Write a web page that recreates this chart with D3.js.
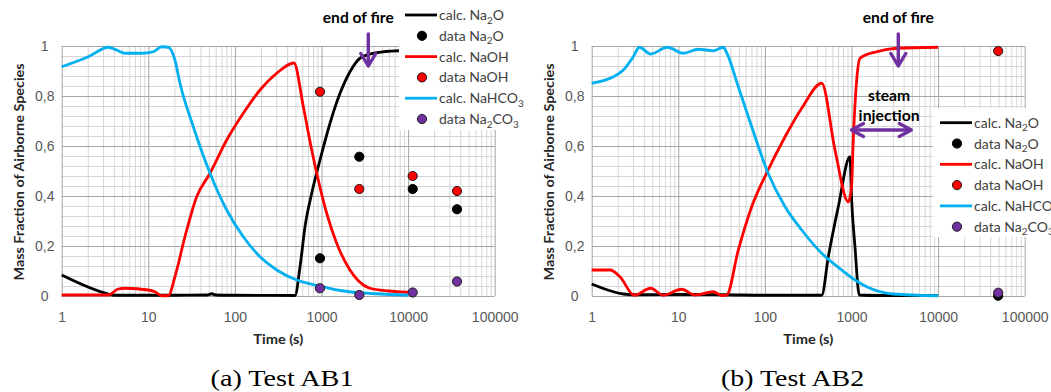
<!DOCTYPE html>
<html>
<head>
<meta charset="utf-8">
<script src="https://cdn.jsdelivr.net/npm/d3@7"></script>
<style>
  body { margin: 0; background: #fff; }
  svg { display: block; font-family: Lato, 'Open Sans', sans-serif; }
</style>
</head>
<body>
<svg width="1051" height="392"></svg>
<script>
// ---- tick labels
const xTickValues = [1, 10, 100, 1000, 10000, 100000];
const xTickLabels = ['1', '10', '100', '1000', '10000', '100000'];
const yTickValues = [0, 0.2, 0.4, 0.6, 0.8, 1];
const yTickLabels = ['0', '0,2', '0,4', '0,6', '0,8', '1'];

// ---- Test AB1 (time s, mass fraction)
const ab1CalcNa2O = [[1,0.084],[3.45,0.008],[4,0.003],[20,0.003],[48,0.004],[54,0.009],[60,0.004],[100,0.003],[494,0.002],[565,0.117],[645,0.277],[771,0.411],[961,0.544],[1254,0.691],[1636,0.811],[2133,0.897],[2785,0.951],[4340,0.973],[7700,0.981],[10000,0.982]];
const ab1CalcNaOH = [[1,0.004],[3.45,0.004],[4.5,0.028],[5.4,0.031],[10,0.024],[11.9,0.017],[14.3,0.001],[17,0.001],[20.3,0.077],[26.5,0.237],[36.2,0.397],[51.6,0.491],[80.4,0.624],[125,0.731],[195,0.824],[304,0.891],[480,0.932],[617,0.757],[771,0.584],[918,0.464],[1148,0.331],[1497,0.211],[2133,0.104],[3041,0.044],[3630,0.031],[6000,0.02],[10000,0.015]];
const ab1CalcNaHCO3 = [[1,0.917],[2.03,0.957],[3.45,0.995],[4.3,0.984],[5.4,0.971],[8.4,0.971],[11.4,0.977],[14.3,0.997],[17,0.995],[20.3,0.944],[23.2,0.851],[33.1,0.677],[51.6,0.491],[80.4,0.344],[125,0.237],[195,0.157],[304,0.104],[517,0.064],[771,0.047],[1100,0.035],[1730,0.021],[4200,0.009],[10000,0.003]];
const ab1DataTimes = [961, 2733, 11300, 36700];
const ab1DataNa2O = [0.151, 0.557, 0.428, 0.347];
const ab1DataNaOH = [0.817, 0.428, 0.48, 0.42];
const ab1DataNa2CO3 = [0.031, 0.004, 0.014, 0.058];

// ---- Test AB2
const ab2CalcNa2O = [[1,0.048],[1.78,0.017],[2.32,0.008],[3,0.005],[10,0.006],[35,0.005],[100,0.003],[453,0.003],[540,0.157],[704,0.357],[961,0.557],[1000,0.397],[1097,0.197],[1231,0.004],[2000,0.002],[10000,0.002]];
const ab2CalcNaOH = [[1,0.104],[1.63,0.104],[2.12,0.077],[3.1,0.003],[4.8,0.031],[6.7,0.003],[10.9,0.027],[15.6,0.004],[25.4,0.017],[31.7,0.002],[36.2,0.004],[49.3,0.184],[70.4,0.357],[109,0.504],[171,0.637],[266,0.751],[453,0.851],[645,0.584],[918,0.377],[1000,0.437],[1048,0.624],[1148,0.864],[1254,0.951],[1950,0.977],[3325,0.991],[10000,0.995]];
const ab2CalcNaHCO3 = [[1,0.851],[1.78,0.877],[2.32,0.904],[3.02,0.957],[3.55,0.995],[4.8,0.968],[7.46,0.995],[11.4,0.971],[17,0.987],[25.4,0.981],[33,0.995],[36,0.975],[49.3,0.837],[70.4,0.677],[109,0.491],[171,0.357],[266,0.264],[453,0.171],[771,0.104],[1097,0.064],[1497,0.037],[3020,0.008],[10000,0.001]];
const ab2DataTimes = [49400];
const ab2DataNa2O = [0.001];
const ab2DataNaOH = [0.98];
const ab2DataNa2CO3 = [0.013];

// ---- annotations (time in s)
const endOfFireTime = 3470;
const steamInjection = [1000, 4900];
const steamLabelTime = 2720;

const legendItems = [
    { type: 'line', color: '#000000', label: ['calc. Na', '2', 'O'] },
    { type: 'dot', color: '#000000', label: ['data Na', '2', 'O'] },
    { type: 'line', color: '#ff0000', label: ['calc. NaOH'] },
    { type: 'dot', color: '#ff0000', label: ['data NaOH'] },
    { type: 'line', color: '#00b0f0', label: ['calc. NaHCO', '3', ''] },
    { type: 'dot', color: '#7030a0', label: ['data Na', '2', 'CO', '3', ''] }
];

const svg = d3.select('svg');
const purple = '#7030a0';

function drawPanel(p) {
    const x = d3.scaleLog().domain([1, 1e5]).range([p.x0, p.x1]);
    const y = d3.scaleLinear().domain([0, 1]).range([296, 46]);
    const h = y(0) - y(1);
    const w = p.x1 - p.x0;
    const g = svg.append('g');

    // grid minor
    const minorX = x.ticks().filter(t => !xTickValues.includes(t));
    const minorY = d3.range(0, 1.0001, 0.04).filter(v => Math.abs(v * 5 - Math.round(v * 5)) > 1e-6);
    g.append('g')
        .attr('transform', `translate(0,${y(0)})`)
        .call(d3.axisBottom(x).tickValues(minorX).tickSize(-h).tickFormat(''))
        .call(s => s.select('.domain').remove())
        .selectAll('line').attr('stroke', '#d6d6d6');
    g.append('g')
        .attr('transform', `translate(${p.x0},0)`)
        .call(d3.axisLeft(y).tickValues(minorY).tickSize(-w).tickFormat(''))
        .call(s => s.select('.domain').remove())
        .selectAll('line').attr('stroke', '#d6d6d6');

    // grid major + labels
    g.append('g')
        .attr('transform', `translate(0,${y(0)})`)
        .call(d3.axisBottom(x).tickValues(xTickValues).tickSize(-h).tickPadding(16)
            .tickFormat((d, i) => xTickLabels[i]))
        .call(s => s.select('.domain').remove())
        .call(s => s.selectAll('line').attr('stroke', '#a6a6a6'))
        .call(s => s.selectAll('text').attr('fill', '#595959').style('font-size', '14px'));
    g.append('g')
        .attr('transform', `translate(${p.x0},0)`)
        .call(d3.axisLeft(y).tickValues(yTickValues).tickSize(-w).tickPadding(17)
            .tickFormat((d, i) => yTickLabels[i]))
        .call(s => s.select('.domain').remove())
        .call(s => s.selectAll('line').attr('stroke', '#a6a6a6'))
        .call(s => s.selectAll('text').attr('fill', '#595959').style('font-size', '14px')
            .attr('text-anchor', 'middle'));

    // titles
    g.append('text')
        .attr('transform', `translate(${p.x0 - 43},${(y(0) + y(1)) / 2 + 1}) rotate(-90)`)
        .attr('text-anchor', 'middle')
        .attr('dominant-baseline', 'central')
        .attr('textLength', 217).attr('lengthAdjust', 'spacingAndGlyphs')
        .style('font-size', '14px').style('font-weight', 'bold').attr('fill', '#262626')
        .text('Mass Fraction of Airborne Species');
    g.append('text')
        .attr('x', (p.x0 + p.x1) / 2).attr('y', 344)
        .attr('text-anchor', 'middle')
        .attr('textLength', 50).attr('lengthAdjust', 'spacingAndGlyphs')
        .style('font-size', '14px').style('font-weight', 'bold').attr('fill', '#262626')
        .text('Time (s)');
    g.append('text')
        .attr('x', p.captionX).attr('y', 386)
        .attr('text-anchor', 'middle')
        .attr('textLength', 143).attr('lengthAdjust', 'spacingAndGlyphs')
        .style('font-family', "'Liberation Serif', 'Times New Roman', serif")
        .style('font-size', '23px').attr('fill', '#000')
        .text(p.caption);

    // series
    const line = d3.line().x(d => x(d[0])).y(d => y(d[1])).curve(d3.curveMonotoneX);
    const dots = (times, vals, fill, stroke) => {
        g.append('g').selectAll('circle')
            .data(times.map((t, i) => [t, vals[i]]))
            .join('circle')
            .attr('cx', d => x(d[0])).attr('cy', d => y(d[1])).attr('r', 4.6)
            .attr('fill', fill).attr('stroke', stroke).attr('stroke-width', 1);
    };
    const path = (data, color) => g.append('path').datum(data)
        .attr('d', line).attr('fill', 'none').attr('stroke', color)
        .attr('stroke-width', 2.8).attr('stroke-linejoin', 'round');

    path(p.na2o, '#000000');
    dots(p.times, p.dNa2O, '#000000', '#000000');
    path(p.naoh, '#ff0000');
    dots(p.times, p.dNaOH, '#ff0000', '#1a1a1a');
    path(p.nahco3, '#00b0f0');
    dots(p.times, p.dNa2CO3, purple, '#1a1a1a');

    // legend
    const lg = g.append('g');
    lg.append('rect')
        .attr('x', p.legend.x).attr('y', p.legend.y)
        .attr('width', p.legend.w).attr('height', p.legend.h)
        .attr('fill', '#fff');
    legendItems.forEach((it, i) => {
        const ry = p.legend.row0 + i * 20.8;
        const lx = p.legend.sx;
        if (it.type === 'line') {
            lg.append('line').attr('x1', lx).attr('x2', lx + 32).attr('y1', ry).attr('y2', ry)
                .attr('stroke', it.color).attr('stroke-width', 2.8);
        } else {
            lg.append('circle').attr('cx', lx + 17).attr('cy', ry).attr('r', 4.6)
                .attr('fill', it.color).attr('stroke', it.color === '#000000' ? '#000' : '#1a1a1a');
        }
        const t = lg.append('text').attr('x', lx + 34).attr('y', ry + 5)
            .style('font-size', '14px').attr('fill', '#404040');
        it.label.forEach((part, k) => {
            const sub = k % 2 === 1;
            t.append('tspan').text(part)
                .attr('dy', k === 0 ? 0 : (sub ? 3.5 : -3.5))
                .style('font-size', sub ? '10px' : '14px');
        });
    });

    // end of fire arrow
    const ax = x(endOfFireTime);
    g.append('text').attr('x', ax - 10 + p.fireDx).attr('y', 23)
        .attr('text-anchor', 'middle')
        .attr('textLength', 71).attr('lengthAdjust', 'spacingAndGlyphs')
        .style('font-size', '15px').style('font-weight', 'bold').attr('fill', '#000')
        .text('end of fire');
    const ag = g.append('g').attr('stroke', purple).attr('stroke-width', 3.4)
        .attr('fill', 'none').attr('stroke-linecap', 'round').attr('stroke-linejoin', 'round');
    ag.append('line').attr('x1', ax).attr('x2', ax).attr('y1', 34).attr('y2', 65);
    ag.append('polyline').attr('points', `${ax - 7.5},53.5 ${ax},66 ${ax + 7.5},53.5`);

    if (p.steam) {
        const sx0 = x(steamInjection[0]), sx1 = x(steamInjection[1]);
        const sy = 130;
        const cx = x(steamLabelTime);
        g.append('text').attr('x', cx).attr('y', 101).attr('text-anchor', 'middle')
            .attr('textLength', 42).attr('lengthAdjust', 'spacingAndGlyphs')
            .style('font-size', '15px').style('font-weight', 'bold').attr('fill', '#000')
            .text('steam');
        g.append('text').attr('x', cx).attr('y', 121).attr('text-anchor', 'middle')
            .attr('textLength', 61).attr('lengthAdjust', 'spacingAndGlyphs')
            .style('font-size', '15px').style('font-weight', 'bold').attr('fill', '#000')
            .text('injection');
        const sg = g.append('g').attr('stroke', purple).attr('stroke-width', 3.4)
            .attr('fill', 'none').attr('stroke-linecap', 'round').attr('stroke-linejoin', 'round');
        sg.append('line').attr('x1', sx0 + 1).attr('x2', sx1 - 1).attr('y1', sy).attr('y2', sy);
        sg.append('polyline').attr('points', `${sx0 + 12},${sy - 6.5} ${sx0},${sy} ${sx0 + 12},${sy + 6.5}`);
        sg.append('polyline').attr('points', `${sx1 - 12},${sy - 6.5} ${sx1},${sy} ${sx1 - 12},${sy + 6.5}`);
    }
}

drawPanel({
    x0: 61.7, x1: 494.7, captionX: 282, caption: '(a) Test AB1',
    na2o: ab1CalcNa2O, naoh: ab1CalcNaOH, nahco3: ab1CalcNaHCO3,
    times: ab1DataTimes, dNa2O: ab1DataNa2O, dNaOH: ab1DataNaOH, dNa2CO3: ab1DataNa2CO3,
    legend: { x: 399, y: 0, w: 131, h: 130, sx: 405, row0: 15 },
    fireDx: 0, steam: false
});
drawPanel({
    x0: 591.7, x1: 1024.7, captionX: 792.6, caption: '(b) Test AB2',
    na2o: ab2CalcNa2O, naoh: ab2CalcNaOH, nahco3: ab2CalcNaHCO3,
    times: ab2DataTimes, dNa2O: ab2DataNa2O, dNaOH: ab2DataNaOH, dNa2CO3: ab2DataNa2CO3,
    legend: { x: 933, y: 108, w: 120, h: 129, sx: 940, row0: 122.7 },
    fireDx: 10, steam: true
});
</script>
</body>
</html>
